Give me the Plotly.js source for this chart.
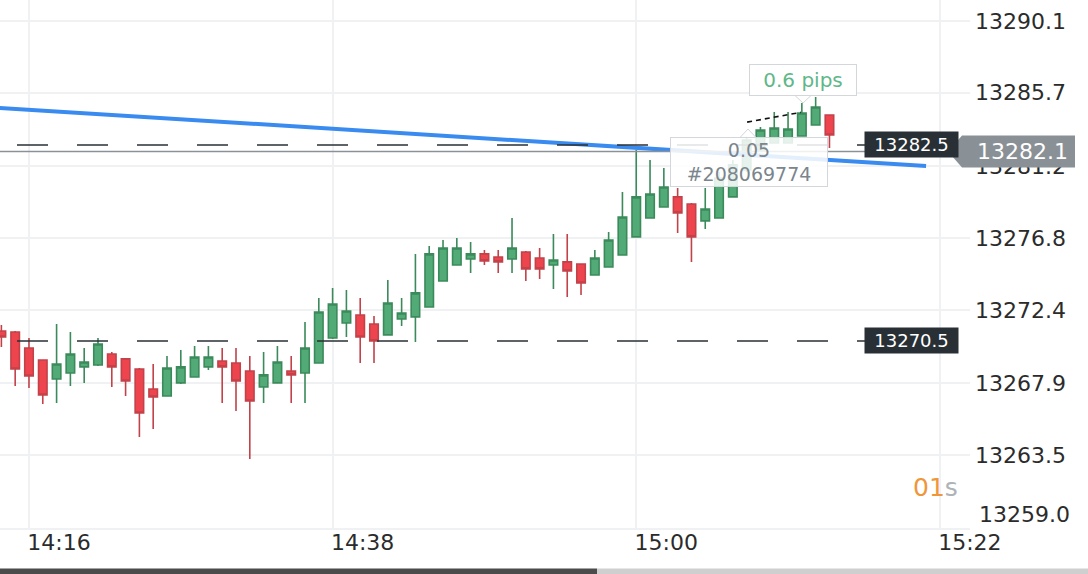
<!DOCTYPE html>
<html>
<head>
<meta charset="utf-8">
<script src="https://cdn.plot.ly/plotly-3.0.1.min.js"></script>
<style>
  html, body { margin: 0; padding: 0; background: #ffffff; }
  #chart { width: 1088px; height: 574px; }
</style>
</head>
<body>
<div id="chart"></div>
<script>
// ---------- data ----------
const day = '2024-05-10';
const times = ['14:14','14:15','14:16','14:17','14:18','14:19','14:20','14:21','14:22','14:23',
  '14:24','14:25','14:26','14:27','14:28','14:29','14:30','14:31','14:32','14:33',
  '14:34','14:35','14:36','14:37','14:38','14:39','14:40','14:41','14:42','14:43',
  '14:44','14:45','14:46','14:47','14:48','14:49','14:50','14:51','14:52','14:53',
  '14:54','14:55','14:56','14:57','14:58','14:59','15:00','15:01','15:02','15:03',
  '15:04','15:05','15:06','15:07','15:08','15:09','15:10','15:11','15:12','15:13','15:14'];
const openPrices = [13271.11,13271.05,13270.07,13269.33,13268.17,13268.54,13268.91,13269.03,13269.70,13269.40,
  13268.78,13267.56,13267.13,13267.93,13268.29,13268.91,13269.27,13269.15,13268.66,13267.68,
  13267.93,13268.66,13268.54,13269.15,13270.68,13271.60,13272.09,13271.54,13270.87,13271.84,
  13271.97,13272.58,13274.17,13275.15,13275.52,13275.83,13275.64,13275.52,13275.95,13275.58,
  13275.15,13275.34,13275.21,13274.54,13275.03,13275.76,13276.87,13278.03,13278.70,13279.32,
  13278.89,13277.85,13278.03,13279.32,13280.97,13282.19,13282.62,13282.62,13283.05,13283.72,13284.34];
const highPrices = [13271.48,13271.11,13270.68,13269.33,13271.54,13271.05,13270.07,13270.68,13269.82,13269.46,
  13268.84,13269.09,13269.58,13269.95,13270.19,13270.19,13270.07,13270.07,13269.58,13269.82,
  13270.19,13269.58,13271.66,13273.13,13273.74,13273.62,13273.13,13272.03,13274.23,13273.13,
  13275.83,13276.32,13276.68,13276.80,13276.56,13276.07,13276.07,13278.03,13276.01,13276.19,
  13277.05,13277.05,13275.21,13276.07,13277.17,13279.62,13282.19,13281.58,13281.09,13279.87,
  13278.95,13279.87,13280.85,13281.58,13283.00,13283.60,13284.52,13284.52,13285.07,13285.44,13284.34];
const lowPrices = [13270.13,13267.74,13267.62,13266.64,13266.70,13267.74,13267.93,13268.97,13267.68,13267.13,
  13264.62,13265.11,13267.13,13267.86,13268.29,13268.72,13266.70,13266.21,13263.27,13266.70,
  13267.93,13266.70,13266.70,13269.15,13270.62,13270.74,13269.15,13269.15,13270.87,13271.42,
  13270.44,13272.58,13274.17,13275.15,13274.66,13275.15,13274.66,13274.66,13274.17,13274.29,
  13273.68,13273.19,13273.31,13274.54,13275.03,13275.76,13276.87,13278.03,13278.70,13277.11,
  13275.34,13277.36,13278.03,13279.32,13280.85,13282.07,13282.62,13282.62,13283.05,13283.72,13282.32];
const closePrices = [13270.74,13268.78,13268.35,13267.19,13269.09,13269.70,13269.21,13270.31,13268.91,13268.05,
  13266.09,13267.07,13268.84,13268.91,13269.52,13269.52,13268.91,13268.05,13266.82,13268.42,
  13269.21,13268.42,13270.07,13272.27,13272.76,13272.33,13270.74,13270.50,13272.82,13272.21,
  13273.44,13275.83,13276.19,13276.19,13275.83,13275.40,13275.34,13276.19,13274.91,13274.91,
  13275.46,13274.78,13274.05,13275.58,13276.68,13278.09,13279.32,13279.50,13279.93,13278.34,
  13276.87,13278.58,13280.48,13281.28,13282.81,13283.42,13283.54,13283.48,13284.46,13284.83,13283.11];

const xTickTimes = ['14:16','14:38','15:00','15:22'];
const yTickVals = [13259.0,13263.5,13267.9,13272.4,13276.8,13281.2,13285.7,13290.1];
const yTickText = ['13259.0','13263.5','13267.9','13272.4','13276.8','13281.2','13285.7','13290.1'];

const levelPrices = [13282.5, 13270.5];
const currentPrice = 13282.1;
const trendTimes = ['14:13','15:21'];
const trendPrices = [13284.82, 13281.21];
const measureTimes = ['15:08:02','15:11:56'];
const measurePrices = [13283.9, 13284.5];
const measureLabel = '0.6 pips';
const orderLabel = ['0.05', '#208069774'];
const countdown = ['01', 's'];

// ---------- layout helpers ----------
const PW = 970, PH = 530;          // plot area in px
const px = x => x / PW;            // pixel -> paper x
const py = y => 1 - y / PH;        // pixel -> paper y
const FONT = 'DejaVu Sans';
const dt = t => day + ' ' + t;

const candles = {
  type: 'candlestick',
  x: times.map(dt),
  open: openPrices, high: highPrices, low: lowPrices, close: closePrices,
  increasing: { line: { color: '#3b8a5b', width: 1.6 }, fillcolor: '#52ab76' },
  decreasing: { line: { color: '#c2424a', width: 1.6 }, fillcolor: '#ee444d' },
  whiskerwidth: 0,
  hoverinfo: 'skip'
};

const trend = {
  type: 'scatter', mode: 'lines',
  x: trendTimes.map(dt), y: trendPrices,
  line: { color: '#3a8bef', width: 4 },
  hoverinfo: 'skip'
};

const measure = {
  type: 'scatter', mode: 'lines',
  x: measureTimes.map(dt), y: measurePrices,
  line: { color: '#111111', width: 1.6, dash: '5px,4px' },
  hoverinfo: 'skip'
};

const shapes = [];
levelPrices.forEach(p => {
  shapes.push({
    type: 'line', xref: 'paper', yref: 'y',
    x0: px(17), x1: px(865), y0: p, y1: p,
    line: { color: '#2a3136', width: 1.5, dash: '31px,29px' }, layer: 'above'
  });
});
// current price line
shapes.push({
  type: 'line', xref: 'paper', yref: 'y',
  x0: 0, x1: px(950), y0: currentPrice, y1: currentPrice,
  line: { color: '#8b9297', width: 1.4 }, layer: 'above'
});
// current price tag with pointer
shapes.push({
  type: 'path', xref: 'paper', yref: 'y',
  xsizemode: 'pixel', ysizemode: 'pixel', xanchor: 1, yanchor: currentPrice,
  path: 'M -22 0 L -8 16 L 105 16 L 105 -16 L -8 -16 Z',
  fillcolor: '#8a9196', line: { width: 0 }, layer: 'above'
});
// pointer of the pips tooltip
shapes.push({
  type: 'path', xref: 'paper', yref: 'paper',
  path: `M ${px(795)} ${py(95.5)} L ${px(811)} ${py(95.5)} L ${px(803)} ${py(103)} Z`,
  fillcolor: '#ffffff', line: { color: '#d3d7db', width: 1 }, layer: 'above'
});
// pointer of the order tooltip
shapes.push({
  type: 'path', xref: 'paper', yref: 'paper',
  path: `M ${px(740)} ${py(137.5)} L ${px(756)} ${py(137.5)} L ${px(748)} ${py(129)} Z`,
  fillcolor: 'rgba(255,255,255,0.9)', line: { color: '#d3d7db', width: 1 }, layer: 'above'
});
// bottom scroll bar
shapes.push({
  type: 'rect', xref: 'paper', yref: 'paper',
  x0: 0, x1: px(597), y0: py(574), y1: py(568.5),
  fillcolor: '#4b4b4b', line: { width: 0 }, layer: 'above'
});
shapes.push({
  type: 'rect', xref: 'paper', yref: 'paper',
  x0: px(597), x1: px(1088), y0: py(574), y1: py(568.5),
  fillcolor: '#cfcfcf', line: { width: 0 }, layer: 'above'
});

const annotations = [];
levelPrices.forEach(p => {
  annotations.push({
    xref: 'paper', yref: 'y', x: px(911.5), y: p,
    text: p.toFixed(1), showarrow: false,
    font: { family: FONT, size: 18, color: '#ffffff' },
    bgcolor: '#283036', width: 89, height: 21, borderpad: 2,
    xanchor: 'center', yanchor: 'middle'
  });
});
annotations.push({
  xref: 'paper', yref: 'y', x: px(1022), y: currentPrice,
  text: currentPrice.toFixed(1), showarrow: false,
  font: { family: FONT, size: 22, color: '#ffffff' },
  xanchor: 'center', yanchor: 'middle'
});
annotations.push({
  xref: 'paper', yref: 'paper', x: px(803), y: py(80),
  text: measureLabel, showarrow: false,
  font: { family: FONT, size: 20, color: '#5fb888' },
  bgcolor: '#ffffff', bordercolor: '#d3d7db', borderwidth: 1,
  width: 104, height: 28, borderpad: 1,
  xanchor: 'center', yanchor: 'middle'
});
annotations.push({
  xref: 'paper', yref: 'paper', x: px(749), y: py(161.5),
  text: orderLabel.join('<br>'), showarrow: false,
  font: { family: FONT, size: 19, color: '#7b858c' },
  bgcolor: 'rgba(255,255,255,0.86)', bordercolor: '#d3d7db', borderwidth: 1,
  width: 154, height: 46, borderpad: 1,
  xanchor: 'center', yanchor: 'middle'
});
annotations.push({
  xref: 'paper', yref: 'paper', x: px(935), y: py(487),
  text: `<span style="color:#f0963a">${countdown[0]}</span><span style="color:#aeb3b7">${countdown[1]}</span>`,
  showarrow: false, font: { family: FONT, size: 25 },
  xanchor: 'center', yanchor: 'middle'
});
// lowest price label sits a little higher than its tick
annotations.push({
  xref: 'paper', yref: 'y', x: 1, y: yTickVals[0], yshift: 14, xshift: 7,
  text: yTickText[0], showarrow: false,
  font: { family: FONT, size: 22, color: '#2b2b2b' },
  xanchor: 'left', yanchor: 'middle'
});

const yText = yTickText.map((t, i) => i === 0 ? '' : t);

const layout = {
  width: 1088, height: 574,
  margin: { l: 0, r: 118, t: 0, b: 44, pad: 0 },
  paper_bgcolor: '#ffffff', plot_bgcolor: '#ffffff',
  showlegend: false,
  boxgap: 0.12,
  xaxis: {
    type: 'date',
    range: [dt('14:13:54'), dt('15:24:11')],
    rangeslider: { visible: false },
    tickvals: xTickTimes.map(dt), ticktext: xTickTimes,
    showgrid: true, gridcolor: '#f0f1f3', gridwidth: 2,
    zeroline: false, showline: false, ticks: '',
    tickfont: { family: FONT, size: 22, color: '#2b2b2b' },
    ticklabelshift: 30, ticklabelstandoff: -3,
    fixedrange: true
  },
  yaxis: {
    side: 'right',
    range: [13258.92, 13291.38],
    tickvals: yTickVals, ticktext: yText,
    showgrid: true, gridcolor: '#f0f1f3', gridwidth: 2,
    zeroline: false, showline: false, ticks: '',
    tickfont: { family: FONT, size: 22, color: '#2b2b2b' },
    ticklabelstandoff: 4,
    fixedrange: true
  },
  shapes: shapes,
  annotations: annotations
};

Plotly.newPlot('chart', [candles, trend, measure], layout, { displayModeBar: false, staticPlot: true });
</script>
</body>
</html>
